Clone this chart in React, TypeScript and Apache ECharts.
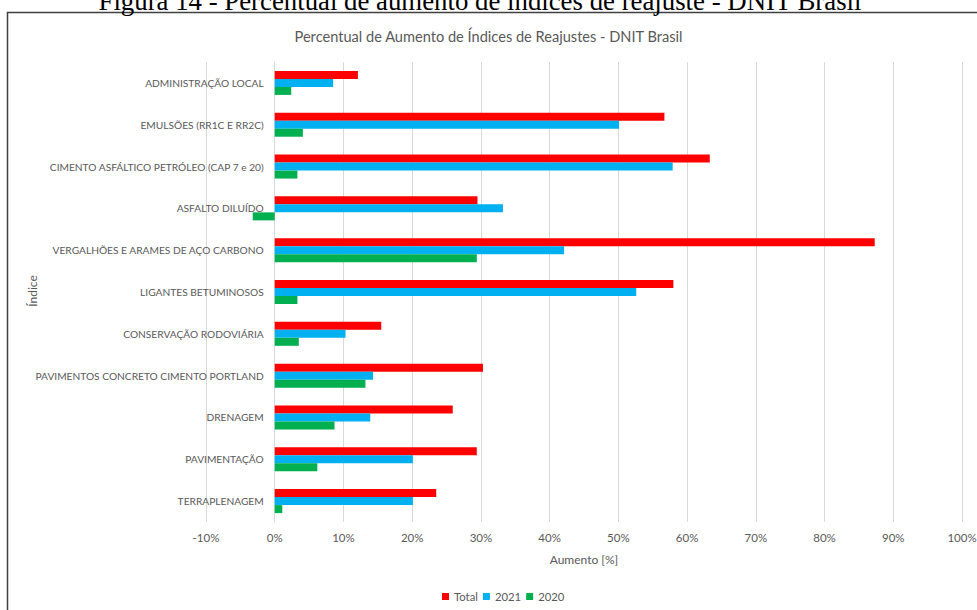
import React, { useEffect, useRef } from "react";
import * as echarts from "echarts";

const categories = [
  "ADMINISTRAÇÃO LOCAL",
  "EMULSÕES (RR1C E RR2C)",
  "CIMENTO ASFÁLTICO PETRÓLEO (CAP 7 e 20)",
  "ASFALTO DILUÍDO",
  "VERGALHÕES E ARAMES DE AÇO CARBONO",
  "LIGANTES BETUMINOSOS",
  "CONSERVAÇÃO RODOVIÁRIA",
  "PAVIMENTOS CONCRETO CIMENTO PORTLAND",
  "DRENAGEM",
  "PAVIMENTAÇÃO",
  "TERRAPLENAGEM",
];

const totalValues = [12.1, 56.7, 63.3, 29.5, 87.3, 58.0, 15.5, 30.3, 25.9, 29.4, 23.5];
const values2021 = [8.5, 50.1, 57.9, 33.2, 42.1, 52.6, 10.3, 14.3, 13.9, 20.1, 20.1];
const values2020 = [2.4, 4.1, 3.3, -3.2, 29.4, 3.3, 3.5, 13.2, 8.7, 6.2, 1.1];

const seriesNames = ["Total", "2021", "2020"];
const seriesColors = ["#FF0000", "#00B0F0", "#00B050"];

const chartTitle = "Percentual de Aumento de Índices de Reajustes - DNIT Brasil";
const caption = "Figura 14 - Percentual de aumento de índices de reajuste - DNIT Brasil";
const xAxisName = "Aumento [%]";
const yAxisName = "Índice";

const FONT = "Lato, 'Open Sans', sans-serif";

export default function App() {
  const ref = useRef<HTMLDivElement>(null);

  useEffect(() => {
    if (!ref.current) return;
    const chart = echarts.init(ref.current, undefined, { renderer: "svg" });
    const data = [totalValues, values2021, values2020];
    chart.setOption({
      animation: false,
      backgroundColor: "#ffffff",
      textStyle: { fontFamily: FONT },
      title: {
        text: chartTitle,
        left: "center",
        top: 24,
        textStyle: { fontSize: 14.6, fontWeight: "normal", color: "#595959", fontFamily: FONT },
      },
      legend: {
        top: 591,
        left: 442,
        icon: "rect",
        itemWidth: 7,
        itemHeight: 7,
        itemGap: 5,
        padding: 0,
        textStyle: { fontSize: 11.3, color: "#595959", fontFamily: FONT },
        data: seriesNames,
      },
      grid: {
        left: 206,
        right: 15,
        top: 62,
        bottom: 88,
        containLabel: false,
        outerBoundsMode: "none",
      },
      xAxis: {
        type: "value",
        min: -10,
        max: 100,
        interval: 10,
        name: xAxisName,
        nameLocation: "middle",
        nameGap: 31,
        nameTextStyle: { fontSize: 12, color: "#595959", fontFamily: FONT },
        axisLine: { show: false },
        axisTick: { show: false },
        axisLabel: {
          formatter: "{value}%",
          color: "#595959",
          fontSize: 11.5,
          margin: 9,
          fontFamily: FONT,
        },
        splitLine: { show: true, lineStyle: { color: "#d9d9d9", width: 1 } },
      },
      yAxis: {
        type: "category",
        inverse: true,
        data: categories,
        offset: -68.7,
        axisLine: { show: true, onZero: false, lineStyle: { color: "#d9d9d9" } },
        axisTick: { show: false },
        axisLabel: { color: "#595959", fontSize: 10.2, margin: 11, fontFamily: FONT },
      },
      graphic: [
        {
          type: "rect",
          silent: true,
          shape: { x: 7.5, y: 12.5, width: 990, height: 620 },
          style: { fill: "none", stroke: "#404040", lineWidth: 1.5 },
        },
        {
          type: "text",
          silent: true,
          x: 480,
          y: 14,
          style: {
            text: caption,
            fontFamily: "'Liberation Serif', 'Times New Roman', serif",
            fontSize: 26.8,
            fill: "#000000",
            align: "center",
            verticalAlign: "bottom",
          },
        },
        {
          type: "text",
          silent: true,
          x: 32,
          y: 291,
          rotation: Math.PI / 2,
          style: {
            text: yAxisName,
            fontFamily: FONT,
            fontSize: 12,
            fill: "#595959",
            align: "center",
            verticalAlign: "middle",
          },
        },
      ],
      series: seriesNames.map((name, i) => ({
        name,
        type: "bar",
        data: data[i],
        barWidth: 8,
        barGap: "0%",
        itemStyle: { color: seriesColors[i] },
      })),
    });
    return () => chart.dispose();
  }, []);

  return (
    <div
      ref={ref}
      style={{ position: "fixed", left: 0, top: 0, width: 977, height: 610 }}
    />
  );
}
